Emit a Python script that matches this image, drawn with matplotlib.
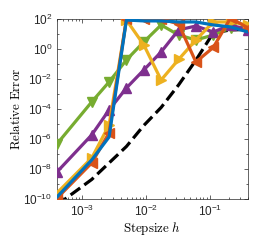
import matplotlib
matplotlib.use("Agg")
import matplotlib.pyplot as plt
import matplotlib.ticker as mt
import numpy as np

h = [4.0e-4, 1.405e-3, 2.63e-3, 4.93e-3, 9.24e-3, 1.73e-2,
     3.25e-2, 6.08e-2, 0.114, 0.2135, 0.4]

# log10 of relative error
blue   = [-9.87, -7.4, -5.87, 1.93, 1.87, 1.87, 1.8, 1.8, 1.6, 1.47, 1.13]
orange = [-9.95, -7.6, -5.6, 2.0, 2.0, 2.0, 1.67, -0.87, 0.1, 2.07, 1.4]
yellow = [-9.6, -7.27, -5.07, 1.93, 0.27, -2.07, -0.7, 0.6, 1.8, 1.8, 1.6]
purple = [-8.2, -5.73, -4.07, -2.6, -1.4, -0.2, 1.27, 1.53, 1.13, 1.6, 1.27]
green  = [-6.33, -3.53, -2.2, -0.73, 0.47, 1.6, 0.93, 0.6, 0.93, 1.4, 1.47]
ref    = [-10.4, -8.7, -7.6, -6.5, -5.1, -3.9, -2.4, -0.75, 1.07, 1.27, 1.3]

C_BLUE = (0.0, 0.447, 0.741)
C_ORNG = (0.850, 0.325, 0.098)
C_YELL = (0.929, 0.694, 0.125)
C_PURP = (0.494, 0.184, 0.556)
C_GREN = (0.466, 0.674, 0.188)

plt.rcParams["mathtext.fontset"] = "cm"
plt.rcParams["font.family"] = ["Liberation Sans", "DejaVu Sans"]
fig = plt.figure(figsize=(2.74, 2.40), dpi=100)
ax = fig.add_axes([0.208, 0.171, 0.697, 0.750])

p10 = lambda v: 10.0 ** np.asarray(v)
lw, ms = 2.3, 7
ax.plot(h, p10(ref), "--", color="k", lw=lw, zorder=2)
ax.plot(h, p10(green), "-v", color=C_GREN, lw=lw, ms=ms, zorder=3)
ax.plot(h, p10(purple), "-^", color=C_PURP, lw=lw, ms=ms, zorder=4)
ax.plot(h, p10(yellow), "->", color=C_YELL, lw=lw, ms=ms, zorder=5)
ax.plot(h, p10(orange), "-<", color=C_ORNG, lw=lw, ms=ms, zorder=6)
ax.plot(h, p10(blue), "-", color=C_BLUE, lw=lw, zorder=7)

ax.set_xscale("log")
ax.set_yscale("log")
ax.set_xlim(4.0e-4, 0.4)
ax.set_ylim(1e-10, 1e2)
ax.yaxis.set_major_locator(mt.FixedLocator([1e-10, 1e-8, 1e-6, 1e-4, 1e-2, 1e0, 1e2]))
ax.yaxis.set_minor_locator(mt.LogLocator(base=10, subs=(1.0,), numticks=20))
ax.xaxis.set_major_locator(mt.FixedLocator([1e-3, 1e-2, 1e-1]))
ax.xaxis.set_minor_locator(mt.LogLocator(base=10, subs=np.arange(2, 10), numticks=20))
ax.xaxis.set_minor_formatter(mt.NullFormatter())
ax.yaxis.set_minor_formatter(mt.NullFormatter())

dark = (0.15, 0.15, 0.15)
ax.tick_params(which="both", direction="in", top=True, right=True,
               colors=dark, labelsize=8.5, width=0.5)
ax.tick_params(which="major", length=3)
ax.tick_params(which="minor", length=1.5)
for s in ax.spines.values():
    s.set_color(dark)
    s.set_linewidth(0.5)

ax.set_xlabel(r"$\mathrm{Stepsize}\ h$", fontsize=9.3, color="k", labelpad=1)
ax.set_ylabel(r"$\mathrm{Relative\ Error}$", fontsize=9.3, color="k", labelpad=0)

fig.savefig("out.png", dpi=100)
